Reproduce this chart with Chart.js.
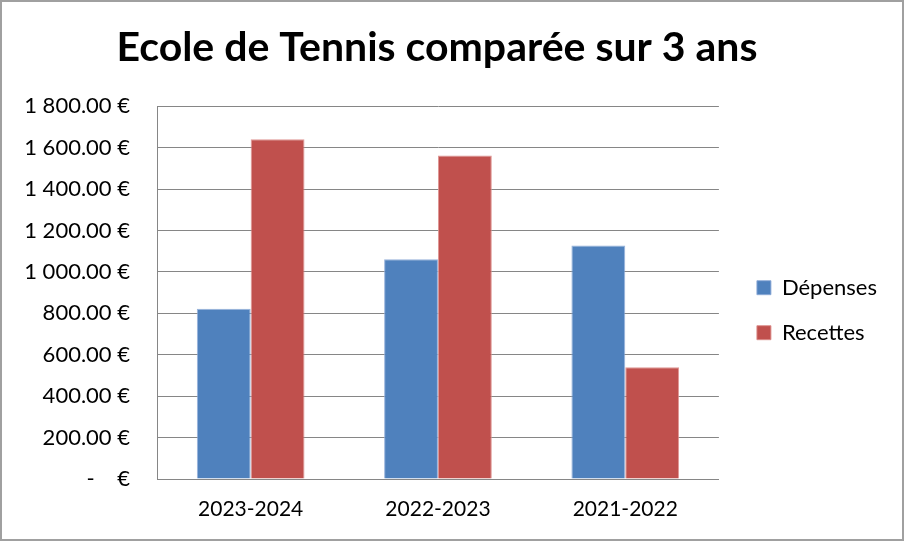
<!DOCTYPE html>
<html><head><meta charset="utf-8">
<script src="https://cdn.jsdelivr.net/npm/chart.js@4/dist/chart.umd.min.js"></script>
<style>
html,body{margin:0;padding:0;background:#fff;}
#wrap{width:904px;height:541px;box-sizing:border-box;border:2px solid #a0a0a0;background:#fff;}
canvas{display:block;}
</style></head><body>
<div id="wrap"><canvas id="c" width="900" height="537"></canvas></div>
<script>
const chartTitle = 'Ecole de Tennis comparée sur 3 ans';
const categories = ['2023-2024', '2022-2023', '2021-2022'];
const seriesNames = ['Dépenses', 'Recettes'];
const depenses = [822, 1061, 1127];
const recettes = [1640, 1562, 539];
const yTickLabels = ['-    €', '200.00 €', '400.00 €', '600.00 €', '800.00 €',
  '1 000.00 €', '1 200.00 €', '1 400.00 €', '1 600.00 €', '1 800.00 €'];

const FONT = 'Lato, "Open Sans", sans-serif';
const GRID = '#868686';

const legendShift = {
  id: 'legendShift',
  afterLayout(chart) {
    const l = chart.legend;
    if (l) { l.left += 15; l.right += 15; }
  }
};

new Chart(document.getElementById('c'), {
  type: 'bar',
  data: {
    labels: categories,
    datasets: [
      { label: seriesNames[0], data: depenses, backgroundColor: '#4F81BD', borderColor: 'rgba(140,170,215,0.9)', borderWidth: 1 },
      { label: seriesNames[1], data: recettes, backgroundColor: '#C0504D', borderColor: 'rgba(220,140,138,0.9)', borderWidth: 1 }
    ]
  },
  options: {
    responsive: false,
    devicePixelRatio: 1,
    animation: false,
    layout: { padding: { left: 0, right: 30, top: 0, bottom: 0 } },
    datasets: { bar: { categoryPercentage: 0.575, barPercentage: 1 } },
    plugins: {
      tooltip: { enabled: false },
      title: {
        display: true, text: chartTitle, color: '#000', fullSize: true,
        font: { family: FONT, size: 41, weight: 'bold' },
        padding: { top: 21, bottom: 34 }
      },
      legend: {
        position: 'right', fullSize: false,
        title: { display: true, text: '', font: { family: FONT, size: 21 }, padding: 5 },
        labels: { boxWidth: 14, boxHeight: 14, padding: 23, color: '#000', font: { family: FONT, size: 22 } }
      }
    },
    scales: {
      x: {
        grid: { display: false, drawTicks: false },
        border: { display: true, color: GRID, width: 1 },
        ticks: { color: '#000', padding: 18, font: { family: FONT, size: 21 } },
        afterFit(s) { s.height = 60; }
      },
      y: {
        min: 0, max: 1800,
        grid: { color: GRID, lineWidth: 1, drawTicks: false },
        border: { display: true, color: GRID, width: 1 },
        ticks: { stepSize: 200, color: '#000', padding: 27, font: { family: FONT, size: 22 },
          callback: (v, i) => yTickLabels[i] },
        afterFit(s) { s.width = 155; }
      }
    }
  },
  plugins: [legendShift]
});
</script>
</body></html>
